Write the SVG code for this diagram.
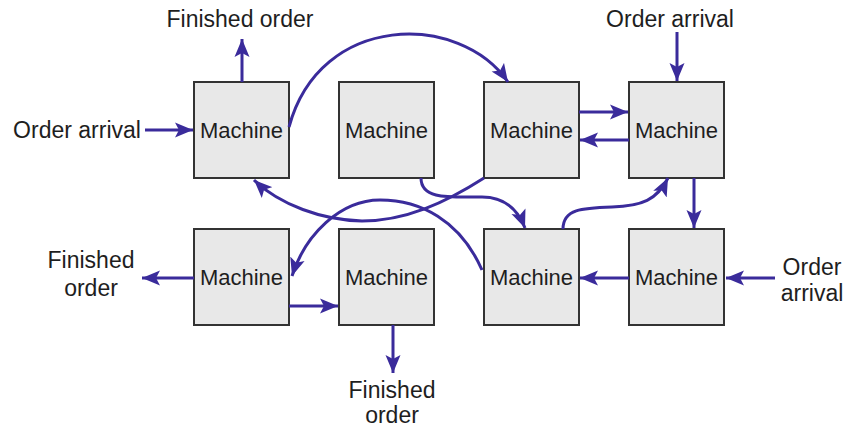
<svg xmlns="http://www.w3.org/2000/svg" width="849" height="429" viewBox="0 0 849 429">
  <style>
    .box { fill: #e8e8e8; stroke: #333333; stroke-width: 2; }
    .mlabel { font-family: "Liberation Sans", Arial, sans-serif; font-size: 22px; fill: #1e1e1e; text-anchor: middle; }
    .label { font-family: "Liberation Sans", Arial, sans-serif; font-size: 23px; fill: #1e1e1e; text-anchor: middle; }
    .link { fill: none; stroke: #3a2b9b; stroke-width: 3; marker-end: url(#head); }
  </style>
  <defs>
    <marker id="head" markerUnits="userSpaceOnUse" markerWidth="20" markerHeight="16" refX="18" refY="8" orient="auto">
      <path d="M0,0.5 L18,8 L0,15.5 L4,8 z" fill="#3a2b9b"/>
    </marker>
  </defs>
  <rect width="849" height="429" fill="#ffffff"/>

  <!-- machines -->
  <g id="m1"><rect class="box" x="194" y="82" width="95" height="96"/><text class="mlabel" x="241.5" y="138">Machine</text></g>
  <g id="m2"><rect class="box" x="339" y="82" width="95" height="96"/><text class="mlabel" x="386.5" y="138">Machine</text></g>
  <g id="m3"><rect class="box" x="484" y="82" width="95" height="96"/><text class="mlabel" x="531.5" y="138">Machine</text></g>
  <g id="m4"><rect class="box" x="629" y="82" width="95" height="96"/><text class="mlabel" x="676.5" y="138">Machine</text></g>
  <g id="m5"><rect class="box" x="194" y="229" width="95" height="96"/><text class="mlabel" x="241.5" y="285">Machine</text></g>
  <g id="m6"><rect class="box" x="339" y="229" width="95" height="96"/><text class="mlabel" x="386.5" y="285">Machine</text></g>
  <g id="m7"><rect class="box" x="484" y="229" width="95" height="96"/><text class="mlabel" x="531.5" y="285">Machine</text></g>
  <g id="m8"><rect class="box" x="629" y="229" width="95" height="96"/><text class="mlabel" x="676.5" y="285">Machine</text></g>

  <!-- external order labels -->
  <g id="out-top"><text class="label" x="240" y="27">Finished order</text></g>
  <g id="in-left"><text class="label" x="77" y="138">Order arrival</text></g>
  <g id="in-top"><text class="label" x="670" y="27">Order arrival</text></g>
  <g id="out-left"><text class="label" x="91" y="268">Finished</text><text class="label" x="91" y="296">order</text></g>
  <g id="out-bottom"><text class="label" x="392" y="398">Finished</text><text class="label" x="392" y="423">order</text></g>
  <g id="in-right"><text class="label" x="812" y="275">Order</text><text class="label" x="812" y="301">arrival</text></g>

  <!-- connectors -->
  <g id="connectors">
    <path class="link" d="M242,82 L242,39"/>
    <path class="link" d="M145,130 L193,130"/>
    <path class="link" d="M289,127 C320,12 460,12 508,82"/>
    <path class="link" d="M579,112 L628,112"/>
    <path class="link" d="M629,140 L580,140"/>
    <path class="link" d="M677,32 L677,81"/>
    <path class="link" d="M694,178 L694,228"/>
    <path class="link" d="M563,229 C563,209 582,208 612,207 C642,206 657,200 668,178"/>
    <path class="link" d="M775,278 L726,278"/>
    <path class="link" d="M629,278 L580,278"/>
    <path class="link" d="M421,178 C421,200 450,197 482,197 C505,197 518,210 525,228"/>
    <path class="link" d="M484,178 C445,203 405,221 362,221 C322,220 280,205 254,180"/>
    <path class="link" d="M482,270 C460,220 420,200 380,200 C340,200 305,235 292,276"/>
    <path class="link" d="M194,278 L142,278"/>
    <path class="link" d="M289,306 L338,306"/>
    <path class="link" d="M393,325 L393,373"/>
  </g>
</svg>
